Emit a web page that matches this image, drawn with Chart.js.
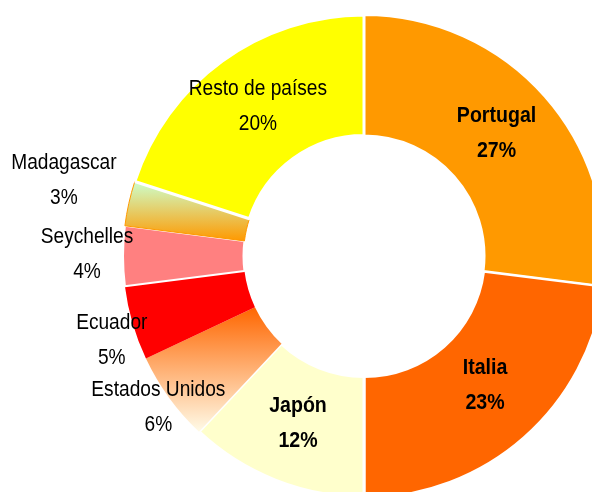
<!DOCTYPE html>
<html>
<head>
<meta charset="utf-8">
<script src="https://cdn.jsdelivr.net/npm/chart.js@4.4.1/dist/chart.umd.min.js"></script>
<style>
  html, body { margin: 0; padding: 0; background: #fff; overflow: hidden; }
  canvas { display: block; }
</style>
</head>
<body>
<canvas id="chart" width="592" height="492"></canvas>
<script>
const countries = ['Portugal', 'Italia', 'Japón', 'Estados Unidos', 'Ecuador', 'Seychelles', 'Madagascar', 'Resto de países'];
const shares = [27, 23, 12, 6, 5, 4, 3, 20];

const sliceColors = ['#FF9900', '#FF6600', '#FFFFCC', null, '#FF0000', '#FF8080', null, '#FFFF00'];
// two slices use a vertical gradient, top colour first
const sliceGradients = { 3: ['#FF6600', '#FFFBE8'], 6: ['#CCFFCC', '#FF9900'] };
const borderColors = ['#fff', '#fff', '#fff', '#fff', '#fff', '#fff', '#FF9900', '#fff'];
const borderWidths = [2, 2, 3, 0, 0, 2, 1, 3];
const offsets = [0, 3, 0, 0, 0, 0, 0, 0];

const boldLabels = ['Portugal', 'Italia', 'Japón'];
// label block centre: distance from pie centre and clock angle in degrees
const labelRadius = [181.5, 175.5, 178.5, 254.5, 265.5, 277, 310, 185];
const labelAngle = [46.9, 136.4, 201.7, 233.9, 251.8, 270.8, 284.5, 325];

const RADIUS = 241;

function sliceFill(context) {
  const i = context.dataIndex;
  const stops = sliceGradients[i];
  if (!stops) return sliceColors[i];
  const chart = context.chart;
  const area = chart.chartArea;
  if (!area) return stops[1];
  const cy = (area.top + area.bottom) / 2;
  const total = shares.reduce((a, b) => a + b, 0);
  const before = shares.slice(0, i).reduce((a, b) => a + b, 0);
  const a0 = before / total * 2 * Math.PI - Math.PI / 2;
  const a1 = (before + shares[i]) / total * 2 * Math.PI - Math.PI / 2;
  const ys = [];
  [a0, a1].forEach(a => {
    ys.push(cy + RADIUS * Math.sin(a), cy + RADIUS / 2 * Math.sin(a));
  });
  const g = chart.ctx.createLinearGradient(0, Math.min(...ys), 0, Math.max(...ys));
  g.addColorStop(0, stops[0]);
  g.addColorStop(1, stops[1]);
  return g;
}

const sliceLabels = {
  id: 'sliceLabels',
  afterDatasetsDraw(chart) {
    const ctx = chart.ctx;
    const meta = chart.getDatasetMeta(0);
    meta.data.forEach((arc, i) => {
      const { x, y } = arc.getProps(['x', 'y'], true);
      const angle = labelAngle[i] * Math.PI / 180 - Math.PI / 2;
      const lx = x + labelRadius[i] * Math.cos(angle);
      const ly = y + labelRadius[i] * Math.sin(angle);
      const bold = boldLabels.includes(countries[i]);
      ctx.save();
      ctx.font = (bold ? 'bold ' : '') + '22px "Liberation Sans", Arial, sans-serif';
      ctx.fillStyle = '#000';
      ctx.textAlign = 'center';
      ctx.textBaseline = 'alphabetic';
      ctx.translate(lx, ly);
      ctx.scale(bold ? 0.89 : 0.87, 1);
      ctx.fillText(countries[i], 0, -17.5 + 8);
      ctx.fillText(shares[i] + '%', 0, 17.5 + 8);
      ctx.restore();
    });
  }
};

new Chart(document.getElementById('chart'), {
  type: 'doughnut',
  data: {
    labels: countries,
    datasets: [{
      data: shares,
      backgroundColor: sliceFill,
      borderColor: borderColors,
      borderWidth: borderWidths,
      offset: offsets,
      clip: false
    }]
  },
  options: {
    responsive: false,
    animation: false,
    events: [],
    radius: RADIUS,
    cutout: '50%',
    layout: { padding: { left: 136, top: 20, right: 0, bottom: 0 } },
    plugins: {
      legend: { display: false },
      tooltip: { enabled: false }
    }
  },
  plugins: [sliceLabels]
});
</script>
</body>
</html>
